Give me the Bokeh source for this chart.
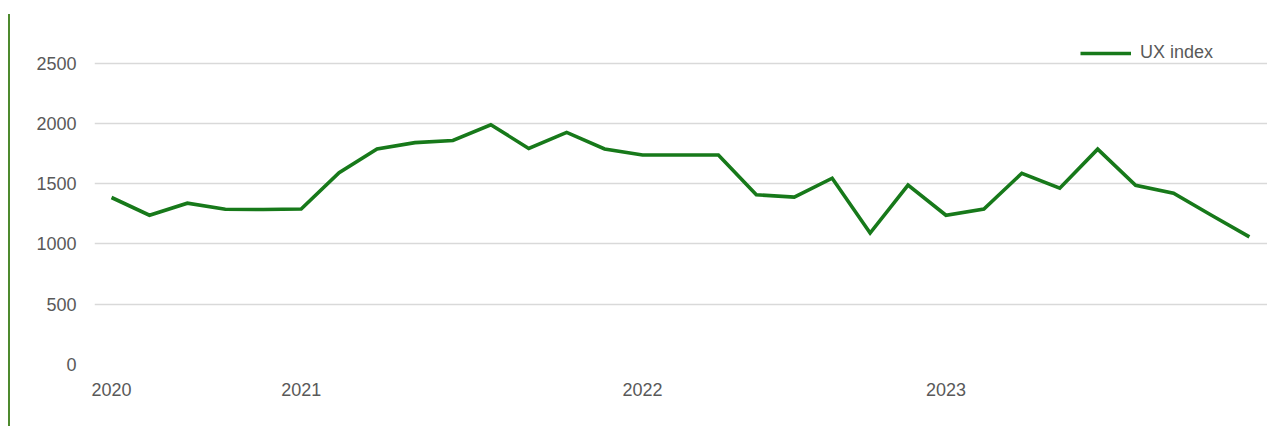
from bokeh.plotting import figure
from bokeh.models import FixedTicker, Legend, LegendItem, Range1d, ColumnDataSource
from bokeh.embed import file_html
from bokeh.resources import INLINE

# ---- data ----
ux_index = [1385, 1238, 1338, 1288, 1285, 1290, 1590, 1788, 1840, 1858, 1988,
            1792, 1925, 1788, 1738, 1738, 1738, 1408, 1388, 1545, 1090, 1488,
            1238, 1290, 1586, 1462, 1786, 1486, 1420, 1238, 1058]
period = list(range(len(ux_index)))
year_tick_pos = [0, 5, 14, 22]
year_labels = ["2020", "2021", "2022", "2023"]
y_ticks = [0, 500, 1000, 1500, 2000, 2500]

FONT = "Liberation Sans"
TEXT = "#595959"
GREEN = "#17791a"

src = ColumnDataSource(dict(x=period, y=ux_index))

p = figure(width=1259, height=412, output_backend="svg", toolbar_location=None,
           x_range=Range1d(-0.449, 30.53), y_range=Range1d(0, 2770),
           min_border_left=84, min_border_right=0, min_border_top=16,
           min_border_bottom=62,
           styles={"margin-top": "14px", "margin-left": "8px",
                   "border-left": "2px solid #4e8a2e"})
p.outline_line_color = None
p.background_fill_color = "white"
p.border_fill_color = "white"

r = p.line("x", "y", source=src, line_color=GREEN, line_width=3.6,
           line_join="miter")

# axes
for ax in (p.xaxis[0], p.yaxis[0]):
    ax.axis_line_color = None
    ax.major_tick_line_color = None
    ax.minor_tick_line_color = None
    ax.major_tick_out = 0
    ax.major_tick_in = 0
    ax.minor_tick_out = 0
    ax.major_label_text_font = FONT
    ax.major_label_text_font_size = "18px"
    ax.major_label_text_color = TEXT
    ax.major_label_standoff = 18

p.yaxis.ticker = FixedTicker(ticks=y_ticks)
p.xaxis.ticker = FixedTicker(ticks=year_tick_pos)
p.xaxis.major_label_overrides = {pos: lab for pos, lab in zip(year_tick_pos, year_labels)}

p.xgrid.grid_line_color = None
p.ygrid.grid_line_color = "#d9d9d9"
p.ygrid.grid_line_width = 1.6

legend = Legend(items=[LegendItem(label="UX index", renderers=[r])],
                location=(986, 301), orientation="horizontal",
                border_line_color=None, background_fill_alpha=0,
                padding=0, margin=0, glyph_width=51, glyph_height=20,
                label_standoff=9, label_text_font=FONT,
                label_text_font_size="18px", label_text_color=TEXT)
p.add_layout(legend)

open("out.html", "w").write(file_html(p, INLINE))
